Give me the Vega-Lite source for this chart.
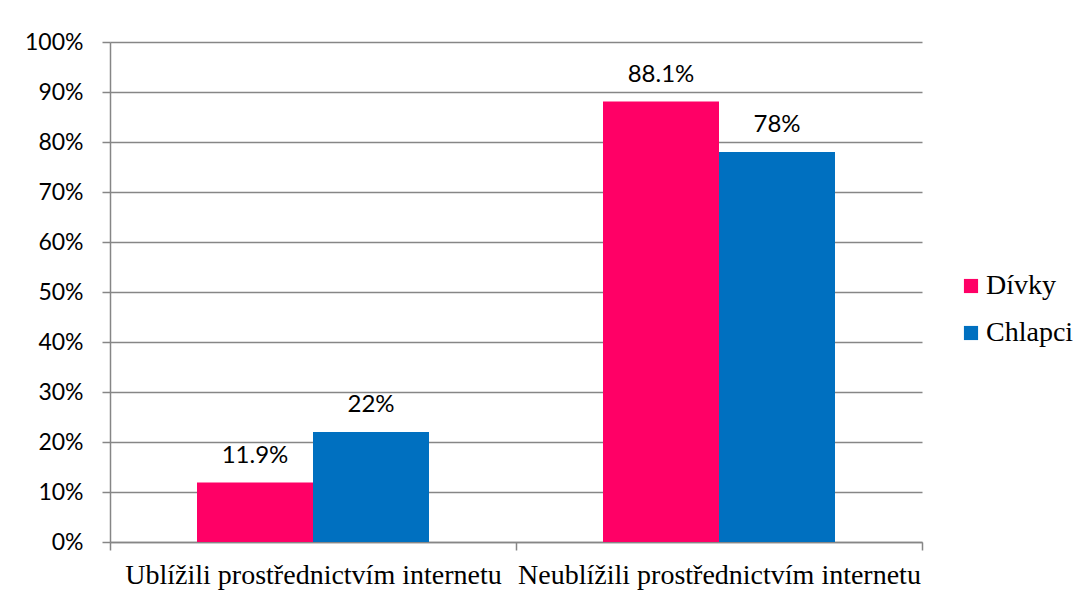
{
  "$schema": "https://vega.github.io/schema/vega-lite/v6.json",
  "autosize": {"type": "none"},
  "padding": {"left": 110, "top": 42, "right": 164, "bottom": 60},
  "width": 812,
  "height": 500,
  "background": "white",
  "data": {
    "values": [
      {"kategorie": "Ublížili prostřednictvím internetu", "pohlavi": "Dívky", "podil": 0.119, "popis": "11.9%"},
      {"kategorie": "Ublížili prostřednictvím internetu", "pohlavi": "Chlapci", "podil": 0.22, "popis": "22%"},
      {"kategorie": "Neublížili prostřednictvím internetu", "pohlavi": "Dívky", "podil": 0.881, "popis": "88.1%"},
      {"kategorie": "Neublížili prostřednictvím internetu", "pohlavi": "Chlapci", "podil": 0.78, "popis": "78%"}
    ]
  },
  "encoding": {
    "x": {
      "field": "kategorie",
      "type": "nominal",
      "sort": ["Ublížili prostřednictvím internetu", "Neublížili prostřednictvím internetu"],
      "scale": {"paddingInner": 0, "paddingOuter": 0},
      "axis": {
        "title": null,
        "labelAngle": 0,
        "labelFont": "Liberation Serif",
        "labelFontSize": 28,
        "labelColor": "black",
        "labelLimit": 0,
        "labelOverlap": false,
        "labelPadding": 11,
        "tickBand": "extent",
        "tickSize": 8,
        "tickColor": "#868686",
        "tickWidth": 1.5,
        "domainColor": "#868686",
        "domainWidth": 1.5,
        "grid": false
      }
    },
    "xOffset": {
      "field": "pohlavi",
      "type": "nominal",
      "sort": ["Dívky", "Chlapci"],
      "scale": {"paddingInner": 0, "paddingOuter": 0.75}
    },
    "y": {
      "field": "podil",
      "type": "quantitative",
      "scale": {"domain": [0, 1], "nice": false},
      "axis": {
        "title": null,
        "format": ".0%",
        "values": [0, 0.1, 0.2, 0.3, 0.4, 0.5, 0.6, 0.7, 0.8, 0.9, 1],
        "labelFont": "Lato",
        "labelFontSize": 23,
        "labelColor": "black",
        "labelPadding": 19,
        "tickSize": 8,
        "tickColor": "#868686",
        "tickWidth": 1.5,
        "domainColor": "#868686",
        "domainWidth": 1.5,
        "gridColor": "#868686",
        "gridWidth": 1.5
      }
    }
  },
  "layer": [
    {
      "mark": {"type": "bar"},
      "encoding": {
        "color": {
          "field": "pohlavi",
          "type": "nominal",
          "sort": ["Dívky", "Chlapci"],
          "scale": {"domain": ["Dívky", "Chlapci"], "range": ["#FF0066", "#0070C0"]},
          "legend": {
            "title": null,
            "orient": "none",
            "legendX": 847,
            "legendY": 230,
            "padding": 0,
            "symbolType": "square",
            "symbolSize": 200,
            "symbolStrokeWidth": 0,
            "labelFont": "Liberation Serif",
            "labelFontSize": 28,
            "labelColor": "black",
            "labelOffset": 1,
            "rowPadding": 19
          }
        }
      }
    },
    {
      "mark": {"type": "text", "font": "Lato", "fontSize": 24, "color": "black", "baseline": "alphabetic", "dy": -20},
      "encoding": {
        "text": {"field": "popis"}
      }
    }
  ],
  "config": {
    "view": {"stroke": null}
  }
}
